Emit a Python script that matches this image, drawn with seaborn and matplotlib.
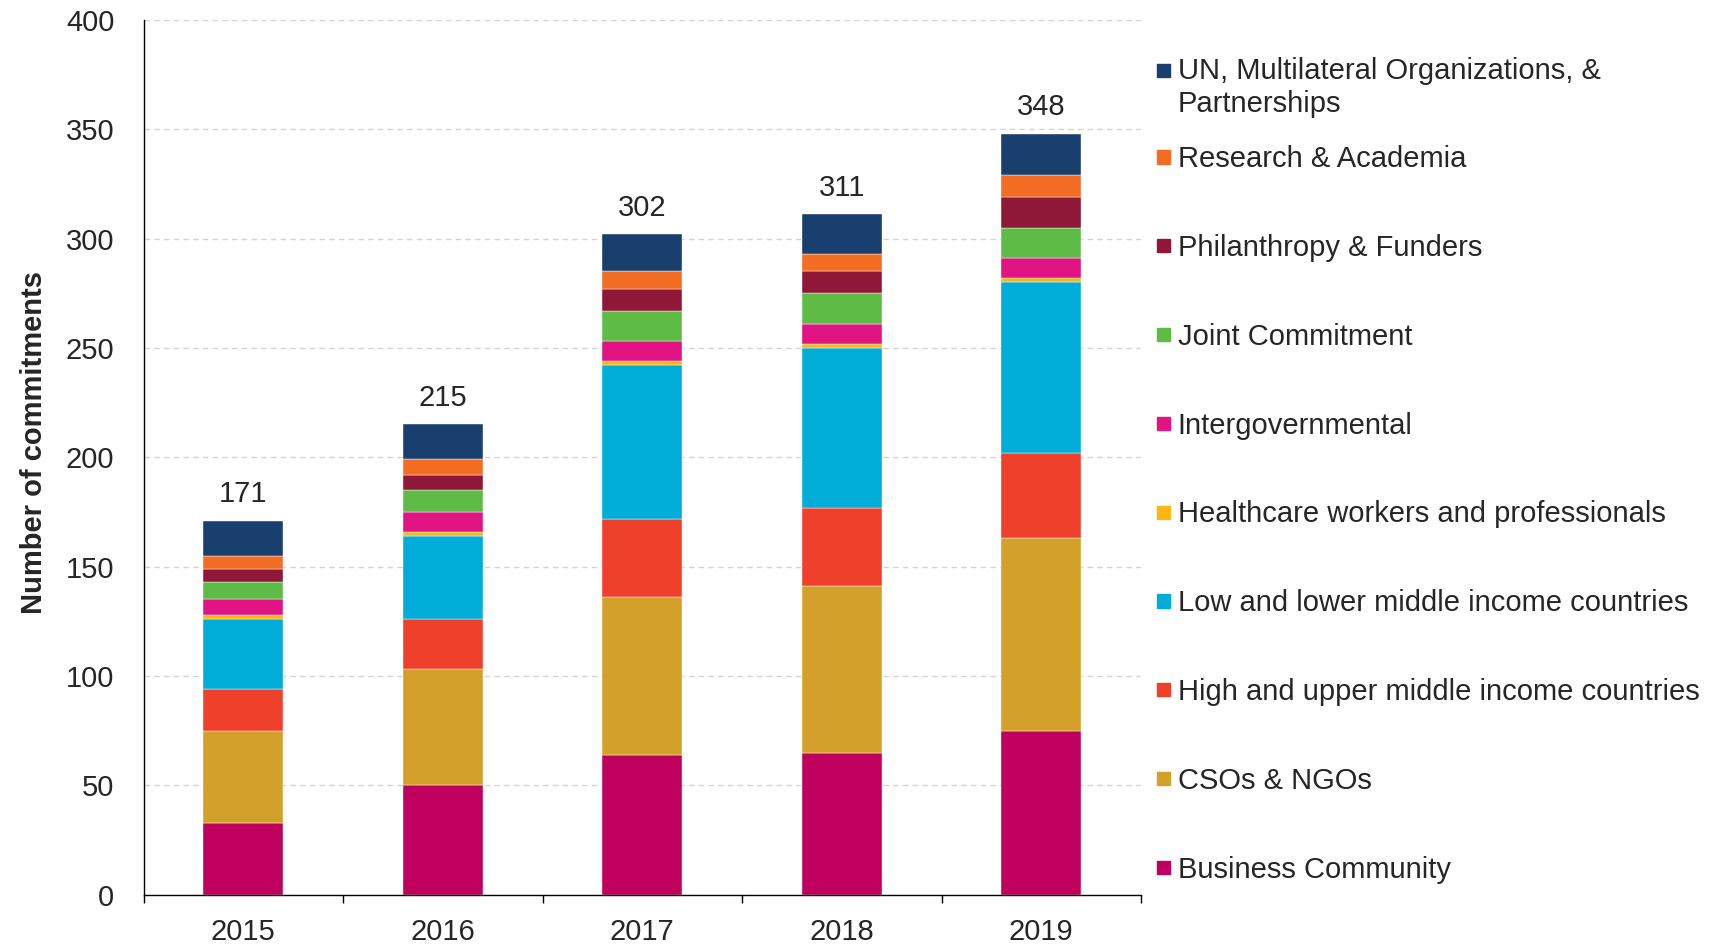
import numpy as np
import pandas as pd
import matplotlib
matplotlib.use("Agg")
import matplotlib.pyplot as plt
import matplotlib.patches as mpatches
from matplotlib.legend_handler import HandlerPatch
from matplotlib.ticker import FixedLocator
import seaborn as sns

years = [2015, 2016, 2017, 2018, 2019]

business = [33, 50, 64, 65, 75]
csos = [42, 53, 72, 76, 88]
high_income = [19, 23, 36, 36, 39]
low_income = [32, 38, 70, 73, 78]
healthcare = [2, 2, 2, 2, 2]
intergov = [7, 9, 9, 9, 9]
joint = [8, 10, 14, 14, 14]
philanthropy = [6, 7, 10, 10, 14]
research = [6, 7, 8, 8, 10]
un_multilateral = [16, 16, 17, 18, 19]

# top of the stack first (also the legend order)
CATEGORIES = [
    "UN, Multilateral Organizations, &\nPartnerships",
    "Research & Academia",
    "Philanthropy & Funders",
    "Joint Commitment",
    "Intergovernmental",
    "Healthcare workers and professionals",
    "Low and lower middle income countries",
    "High and upper middle income countries",
    "CSOs & NGOs",
    "Business Community",
]
SERIES = [un_multilateral, research, philanthropy, joint, intergov,
          healthcare, low_income, high_income, csos, business]
COLORS = ["#183F6E", "#F36D25", "#8F1838", "#5DBB46", "#E11484",
          "#FDB713", "#00ADD8", "#EF402B", "#D3A029", "#C0005F"]
PALETTE = dict(zip(CATEGORIES, COLORS))

rows = []
for cat, vals in zip(CATEGORIES, SERIES):
    for yr, v in zip(years, vals):
        rows.append({"year": yr, "category": cat, "count": v})
df = pd.DataFrame(rows)
totals = df.groupby("year")["count"].sum().reindex(years).to_numpy()

sns.set_style("white")
plt.rcParams["font.family"] = ["Liberation Sans", "DejaVu Sans"]
FS = 21

fig = plt.figure(figsize=(17.32, 9.44), dpi=100)
ax = fig.add_axes([0.0829, 0.0522, 0.5759, 0.9268])

sns.histplot(
    data=df,
    x="year",
    weights="count",
    hue="category",
    hue_order=CATEGORIES,
    palette=PALETTE,
    multiple="stack",
    discrete=True,
    shrink=0.4,
    alpha=1,
    edgecolor="white",
    linewidth=0.3,
    legend=False,
    ax=ax,
)

# totals above the top segment
ax.bar_label(ax.containers[-1], labels=[str(t) for t in totals],
             padding=9, fontsize=FS)

ax.set_xlim(years[0] - 0.5, years[-1] + 0.5)
ax.set_ylim(0, 400)
ax.set_yticks(np.arange(0, 401, 50))
ax.set_xticks(years)
ax.set_xticklabels([str(y) for y in years])
ax.xaxis.set_minor_locator(FixedLocator(np.arange(years[0] - 0.5, years[-1] + 1, 1)))
ax.tick_params(axis="x", which="major", length=0, pad=17, labelsize=FS)
ax.tick_params(axis="x", which="minor", bottom=True, length=5.5, width=1, color="black")
ax.tick_params(axis="y", length=0, pad=21, labelsize=FS)

ax.yaxis.grid(True, color="#d4d4d4", linestyle=(0, (4, 3)), linewidth=1)
ax.set_axisbelow(True)
for side in ["top", "right"]:
    ax.spines[side].set_visible(False)
for side in ["left", "bottom"]:
    ax.spines[side].set_color("black")
    ax.spines[side].set_linewidth(1)

ax.set_xlabel("")
ax.set_ylabel("Number of commitments", fontsize=FS, fontweight="bold", labelpad=13)
ax.yaxis.label.set_y(0.5165)


def square_patch(legend, orig_handle, xdescent, ydescent, width, height, fontsize):
    s = 0.45 * fontsize
    return mpatches.Rectangle((-xdescent + (width - s) / 2, -ydescent + (height - s) / 2), s, s)


def square_patch_first_line(legend, orig_handle, xdescent, ydescent, width, height, fontsize):
    s = 0.45 * fontsize
    return mpatches.Rectangle((-xdescent + (width - s) / 2,
                               -ydescent + (height - s) / 2 + 0.6 * fontsize), s, s)


handles = [mpatches.Patch(color=PALETTE[c]) for c in CATEGORIES]
legend_kw = dict(loc="upper left", frameon=False, fontsize=FS, handlelength=0.6,
                 handletextpad=0.2, borderpad=0, borderaxespad=0)

# the two-line entry sits in its own legend so the rest keep an even pitch
leg_top = fig.legend(
    handles[:1], CATEGORIES[:1],
    handler_map={handles[0]: HandlerPatch(patch_func=square_patch_first_line)},
    bbox_to_anchor=(0.6665, 0.9398),
    **legend_kw,
)
leg_top.get_texts()[0].set_linespacing(1.22)

fig.legend(
    handles[1:], CATEGORIES[1:],
    handler_map={h: HandlerPatch(patch_func=square_patch) for h in handles[1:]},
    bbox_to_anchor=(0.6665, 0.8462),
    labelspacing=2.085,
    **legend_kw,
)

fig.savefig("out.png", dpi=100)
